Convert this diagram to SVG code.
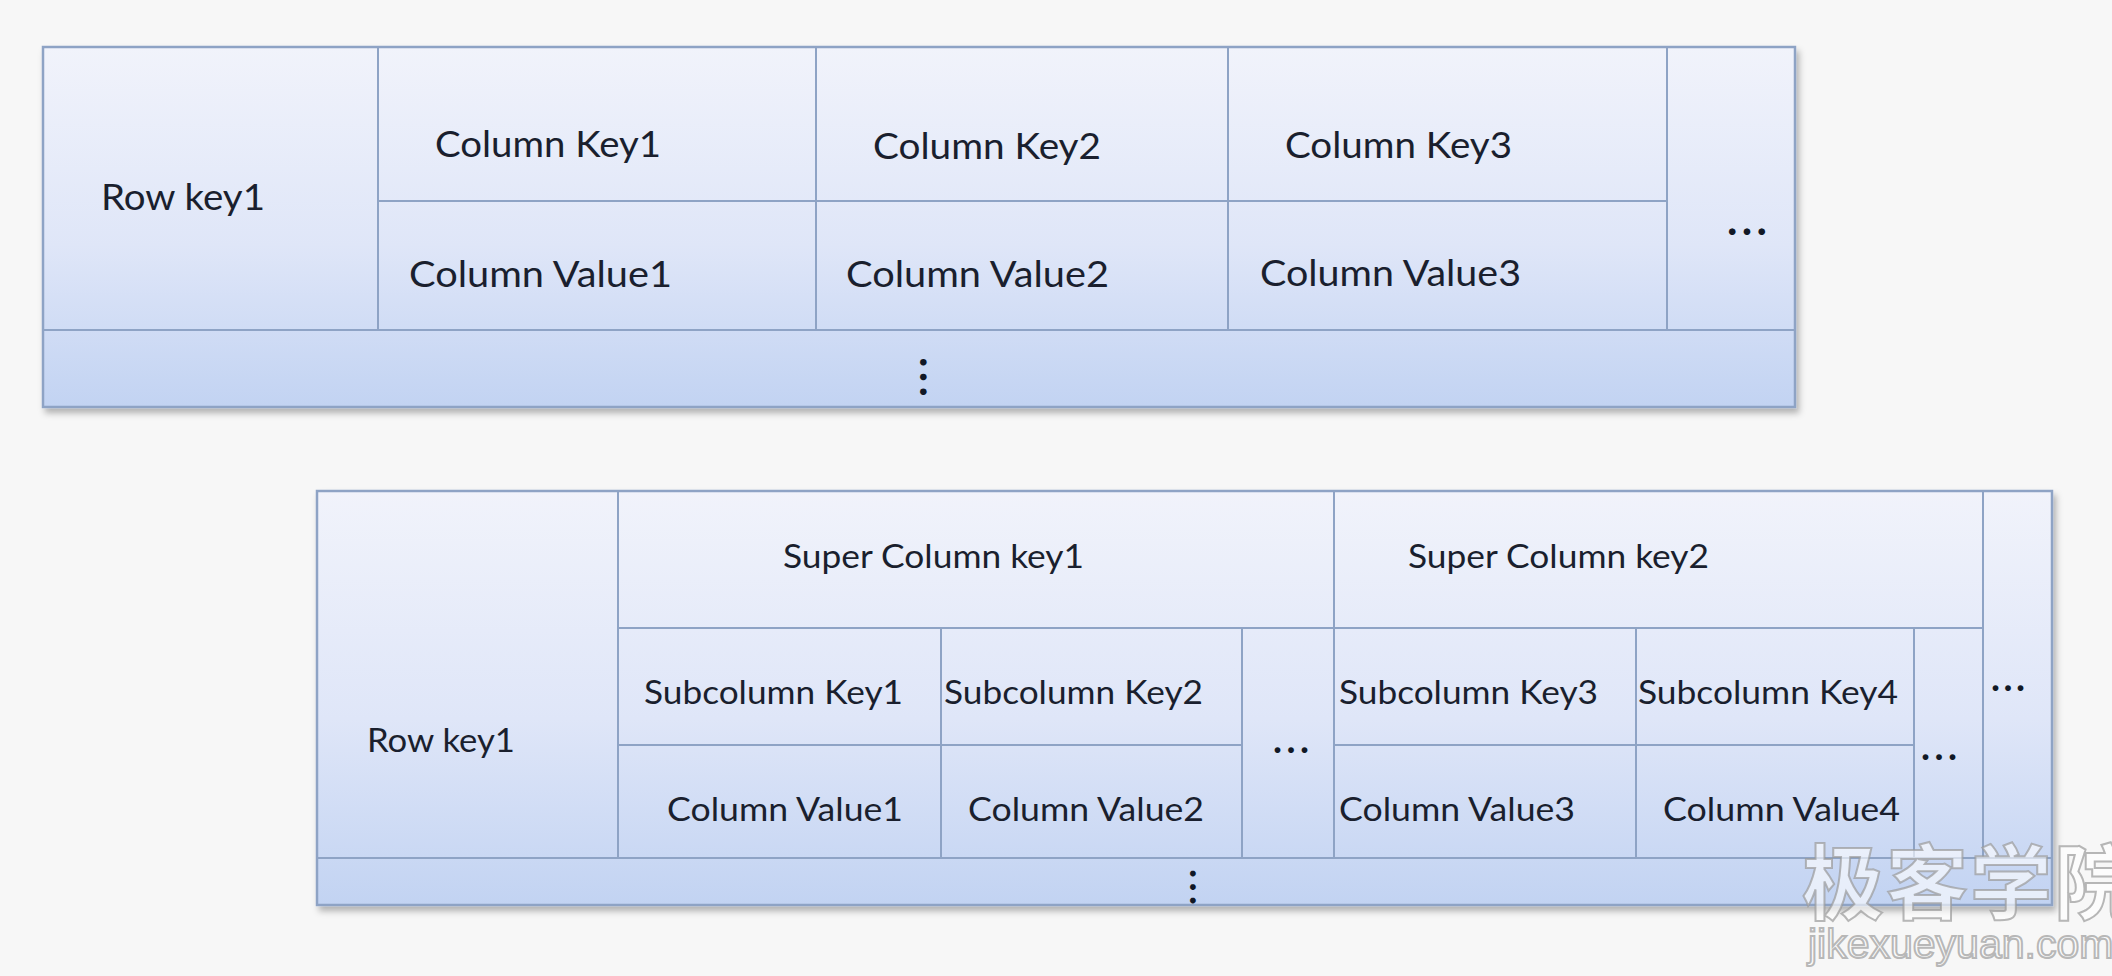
<svg xmlns="http://www.w3.org/2000/svg" width="2112" height="976" viewBox="0 0 2112 976">
<defs>
<linearGradient id="tg" x1="0" y1="0" x2="0" y2="1">
<stop offset="0" stop-color="#f1f3fb"/>
<stop offset="0.55" stop-color="#dfe6f8"/>
<stop offset="1" stop-color="#c2d3f2"/>
</linearGradient>
<filter id="sh" x="-5%" y="-5%" width="110%" height="115%">
<feDropShadow dx="3" dy="5" stdDeviation="3" flood-color="#000" flood-opacity="0.28"/>
</filter>
<style>
.frame{fill:url(#tg);stroke:#8ea3c5;stroke-width:2.5;filter:url(#sh)}
.ln{stroke:#8ea3c5;stroke-width:2;fill:none}
.t1{font-family:Lato,"Liberation Sans",sans-serif;font-size:36px;fill:#1a1f2e}
.t2{font-family:Lato,"Liberation Sans",sans-serif;font-size:33px;fill:#1a1f2e}
.h1{font-family:Lato,"Liberation Sans",sans-serif;font-size:44px;font-weight:bold;fill:#111826}
.h2{font-family:Lato,"Liberation Sans",sans-serif;font-size:38px;font-weight:bold;fill:#111826}
.wm{font-family:"Noto Sans CJK SC",sans-serif;font-weight:bold;fill:#ffffff;fill-opacity:0.6;stroke:#9a9a9a;stroke-opacity:0.7;stroke-width:2}
.wm2{font-family:"Liberation Sans",sans-serif;fill:#ffffff;fill-opacity:0.6;stroke:#9a9a9a;stroke-opacity:0.7;stroke-width:2}
</style>
</defs>
<rect x="0" y="0" width="2112" height="976" fill="#f7f7f7"/>

<g id="table1">
<rect class="frame" x="43" y="47" width="1752" height="360"/>
<g id="t1-grid" class="ln">
<line x1="378" y1="47" x2="378" y2="330"/>
<line x1="816" y1="47" x2="816" y2="330"/>
<line x1="1228" y1="47" x2="1228" y2="330"/>
<line x1="1667" y1="47" x2="1667" y2="330"/>
<line x1="378" y1="201" x2="1667" y2="201"/>
<line x1="43" y1="330" x2="1795" y2="330"/>
</g>
<g id="t1-rowkey"><text class="t1" x="101" y="210" textLength="164" lengthAdjust="spacingAndGlyphs">Row key1</text></g>
<g id="t1-ck1"><text class="t1" x="435" y="157" textLength="226" lengthAdjust="spacingAndGlyphs">Column Key1</text></g>
<g id="t1-ck2"><text class="t1" x="873" y="159" textLength="228" lengthAdjust="spacingAndGlyphs">Column Key2</text></g>
<g id="t1-ck3"><text class="t1" x="1285" y="158" textLength="227" lengthAdjust="spacingAndGlyphs">Column Key3</text></g>
<g id="t1-cv1"><text class="t1" x="409" y="287" textLength="263" lengthAdjust="spacingAndGlyphs">Column Value1</text></g>
<g id="t1-cv2"><text class="t1" x="846" y="287" textLength="263" lengthAdjust="spacingAndGlyphs">Column Value2</text></g>
<g id="t1-cv3"><text class="t1" x="1260" y="286" textLength="261" lengthAdjust="spacingAndGlyphs">Column Value3</text></g>
<g id="t1-more-cols"><text class="h1" x="1727" y="235" textLength="40" lengthAdjust="spacing">...</text></g>
<g id="t1-more-rows" transform="translate(924,377) rotate(90)"><text class="h1" x="-20" y="4" textLength="40" lengthAdjust="spacing">...</text></g>
</g>

<g id="table2">
<rect class="frame" x="317" y="491" width="1735" height="414"/>
<g id="t2-grid" class="ln">
<line x1="618" y1="491" x2="618" y2="858"/>
<line x1="941" y1="628" x2="941" y2="858"/>
<line x1="1242" y1="628" x2="1242" y2="858"/>
<line x1="1334" y1="491" x2="1334" y2="858"/>
<line x1="1636" y1="628" x2="1636" y2="858"/>
<line x1="1914" y1="628" x2="1914" y2="858"/>
<line x1="1983" y1="491" x2="1983" y2="858"/>
<line x1="618" y1="628" x2="1983" y2="628"/>
<line x1="618" y1="745" x2="1242" y2="745"/>
<line x1="1334" y1="745" x2="1914" y2="745"/>
<line x1="317" y1="858" x2="2052" y2="858"/>
</g>
<g id="t2-rowkey"><text class="t2" x="367" y="752" textLength="148" lengthAdjust="spacingAndGlyphs">Row key1</text></g>
<g id="t2-sck1"><text class="t2" x="783" y="568" textLength="301" lengthAdjust="spacingAndGlyphs">Super Column key1</text></g>
<g id="t2-sck2"><text class="t2" x="1408" y="568" textLength="301" lengthAdjust="spacingAndGlyphs">Super Column key2</text></g>
<g id="t2-sk1"><text class="t2" x="644" y="704" textLength="259" lengthAdjust="spacingAndGlyphs">Subcolumn Key1</text></g>
<g id="t2-sk2"><text class="t2" x="944" y="704" textLength="259" lengthAdjust="spacingAndGlyphs">Subcolumn Key2</text></g>
<g id="t2-sk3"><text class="t2" x="1339" y="704" textLength="259" lengthAdjust="spacingAndGlyphs">Subcolumn Key3</text></g>
<g id="t2-sk4"><text class="t2" x="1638" y="704" textLength="260" lengthAdjust="spacingAndGlyphs">Subcolumn Key4</text></g>
<g id="t2-cv1"><text class="t2" x="667" y="821" textLength="236" lengthAdjust="spacingAndGlyphs">Column Value1</text></g>
<g id="t2-cv2"><text class="t2" x="968" y="821" textLength="236" lengthAdjust="spacingAndGlyphs">Column Value2</text></g>
<g id="t2-cv3"><text class="t2" x="1339" y="821" textLength="236" lengthAdjust="spacingAndGlyphs">Column Value3</text></g>
<g id="t2-cv4"><text class="t2" x="1663" y="821" textLength="237" lengthAdjust="spacingAndGlyphs">Column Value4</text></g>
<g id="t2-more-sub1"><text class="h2" x="1273" y="753" textLength="36" lengthAdjust="spacing">...</text></g>
<g id="t2-more-sub2"><text class="h2" x="1921" y="760" textLength="36" lengthAdjust="spacing">...</text></g>
<g id="t2-more-super"><text class="h2" x="1991" y="691" textLength="34" lengthAdjust="spacing">...</text></g>
<g id="t2-more-rows" transform="translate(1193,887) rotate(90)"><text class="h2" x="-18" y="3" textLength="36" lengthAdjust="spacing">...</text></g>
</g>

<g id="watermark">
<text class="wm" x="1802" y="913" font-size="82" letter-spacing="2">极客学院</text>
<text class="wm2" x="1808" y="958" font-size="41">jikexueyuan.com</text>
</g>
</svg>
